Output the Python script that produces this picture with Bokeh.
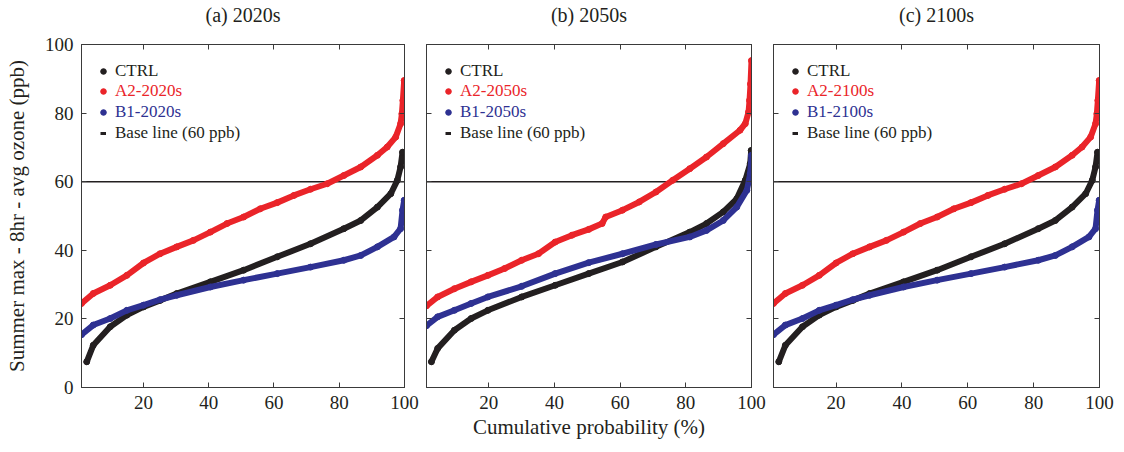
import numpy as np
from bokeh.plotting import figure
from bokeh.models import (ColumnDataSource, Span, Legend, LegendItem, LinearAxis,
                          FixedTicker, Range1d)
from bokeh.layouts import row
from bokeh.embed import file_html
from bokeh.resources import INLINE

FONT = "Liberation Serif"
BASELINE = 60
X_TICKS = [20, 40, 60, 80, 100]
Y_TICKS = [0, 20, 40, 60, 80, 100]
PANEL_TITLES = ["(a) 2020s", "(b) 2050s", "(c) 2100s"]
PERIODS = ["2020s", "2050s", "2100s"]
Y_LABEL = "Summer max - 8hr - avg ozone (ppb)"
X_LABEL = "Cumulative probability (%)"

# ---- panel (a) 2020s ----
ctrl_2020_x = [2.6, 4.6, 9.8, 14.9, 20, 25.1, 30.2, 40.5, 50.7, 61, 71.2, 81.4, 86.6, 91.7, 95.8, 97.8, 98.8, 99.4]
ctrl_2020_y = [7.5, 12.3, 17.7, 21.1, 23.5, 25.4, 27.4, 30.8, 34.2, 38.1, 41.9, 46.3, 48.7, 52.6, 56.5, 60.4, 64.3, 68.6]
a2_2020_x = [1, 4.6, 9.8, 14.9, 20, 25.1, 30.2, 35.3, 40.5, 45.6, 50.7, 55.8, 61, 66.1, 71.2, 76.3, 81.4, 86.6, 91.7, 94.7, 97.3, 98.8, 99.2, 99.5, 99.9]
a2_2020_y = [24.5, 27.4, 29.8, 32.7, 36.3, 39, 41, 42.9, 45.3, 47.8, 49.7, 52.1, 53.9, 56, 57.8, 59.4, 61.8, 64.3, 67.7, 70.1, 73, 76.9, 79.8, 83.7, 89.5]
b1_2020_x = [1, 4.6, 9.8, 14.9, 20, 25.1, 30.2, 40.5, 50.7, 61, 71.2, 81.4, 86.6, 91.7, 96.8, 98.8, 99.4, 99.9]
b1_2020_y = [15.4, 18.2, 20.1, 22.5, 24, 25.6, 26.9, 29.3, 31.3, 33.2, 35.1, 37.1, 38.5, 41, 43.9, 46.3, 51.7, 54.6]

# ---- panel (b) 2050s ----
ctrl_2050_x = [2.5, 4.4, 9.5, 14.6, 19.7, 30, 40.2, 50.4, 60.7, 70.9, 81.2, 86.3, 91.4, 95.5, 98.1, 99.6, 99.9]
ctrl_2050_y = [7.5, 11.4, 16.7, 20.1, 22.5, 26.4, 29.8, 33.2, 36.6, 41, 45.3, 47.8, 51.2, 55, 60.4, 65.2, 69.1]
a2_2050_x = [1, 4.4, 9.5, 14.6, 19.7, 24.8, 30, 35.1, 40.2, 45.3, 50.4, 54.5, 55.6, 60.7, 65.8, 70.9, 76, 81.2, 86.3, 91.4, 96.5, 98.1, 99.1, 99.4, 99.7, 100]
a2_2050_y = [23.8, 26.4, 28.8, 30.8, 32.7, 34.7, 37.1, 39, 42.4, 44.4, 46.1, 47.8, 49.7, 51.7, 54.1, 57, 60.4, 63.8, 67.2, 71.1, 75, 76.9, 80.3, 83.7, 88.5, 95.3]
b1_2050_x = [1, 4.4, 9.5, 14.6, 19.7, 30, 40.2, 50.4, 60.7, 70.9, 81.2, 86.3, 91.4, 95.5, 98.6, 99.6, 100]
b1_2050_y = [18, 20.6, 22.5, 24.5, 26.4, 29.5, 33.2, 36.4, 39, 41.7, 43.9, 45.8, 48.7, 52.6, 57.5, 62.3, 67.7]

# ---- panel (c) 2100s ----
ctrl_2100_x = [2.6, 4.6, 9.8, 14.9, 20, 25.1, 30.2, 40.5, 50.7, 61, 71.2, 81.4, 86.6, 91.7, 95.8, 97.8, 98.8, 99.4]
ctrl_2100_y = [7.5, 12.3, 17.7, 21.1, 23.5, 25.4, 27.4, 30.8, 34.2, 38.1, 41.9, 46.3, 48.7, 52.6, 56.5, 60.4, 64.3, 68.6]
a2_2100_x = [1, 4.6, 9.8, 14.9, 20, 25.1, 30.2, 35.3, 40.5, 45.6, 50.7, 55.8, 61, 66.1, 71.2, 76.3, 81.4, 86.6, 91.7, 94.7, 97.3, 98.8, 99.2, 99.5, 99.9]
a2_2100_y = [24.5, 27.4, 29.8, 32.7, 36.3, 39, 41, 42.9, 45.3, 47.8, 49.7, 52.1, 53.9, 56, 57.8, 59.4, 61.8, 64.3, 67.7, 70.1, 73, 76.9, 79.8, 83.7, 89.5]
b1_2100_x = [1, 4.6, 9.8, 14.9, 20, 25.1, 30.2, 40.5, 50.7, 61, 71.2, 81.4, 86.6, 91.7, 96.8, 98.8, 99.4, 99.9]
b1_2100_y = [15.4, 18.2, 20.1, 22.5, 24, 25.6, 26.9, 29.3, 31.3, 33.2, 35.1, 37.1, 38.5, 41, 43.9, 46.3, 51.7, 54.6]

PANEL_DATA = [
    (ctrl_2020_x, ctrl_2020_y, a2_2020_x, a2_2020_y, b1_2020_x, b1_2020_y),
    (ctrl_2050_x, ctrl_2050_y, a2_2050_x, a2_2050_y, b1_2050_x, b1_2050_y),
    (ctrl_2100_x, ctrl_2100_y, a2_2100_x, a2_2100_y, b1_2100_x, b1_2100_y),
]

BLACK = "#231F20"
RED = "#EA2429"
BLUE = "#2E3192"
AXIS = "#3a3a3a"

FRAME_W = [323, 325, 326]
FRAME_H = 343
BORDER_L = [81, 6, 6]
BORDER_R = [16, 16, 20]


def style_axis(ax, ticks, show_labels):
    ax.ticker = FixedTicker(ticks=ticks)
    ax.major_tick_in = 5
    ax.major_tick_out = 0
    ax.minor_tick_line_color = None
    ax.axis_line_color = AXIS
    ax.major_tick_line_color = AXIS
    ax.major_label_text_font = FONT
    if show_labels:
        ax.major_label_text_color = BLACK
        ax.major_label_text_font_size = "19px"
        ax.major_label_standoff = 8
    else:
        ax.major_label_text_color = None
        ax.major_label_text_font_size = "0px"
        ax.major_label_standoff = 0
    ax.axis_label_text_font = FONT
    ax.axis_label_text_font_style = "normal"
    ax.axis_label_text_font_size = "21px"
    ax.axis_label_text_color = BLACK


def add_legend(p, label, renderer, color, vy, gw, standoff, lx):
    leg = Legend(items=[LegendItem(label=label, renderers=[renderer])],
                 location=(lx, vy), glyph_width=gw, glyph_height=20,
                 label_height=20, label_standoff=standoff, padding=0, margin=0,
                 spacing=0, border_line_color=None, background_fill_alpha=0,
                 label_text_font=FONT, label_text_font_size="17px",
                 label_text_color=color)
    p.add_layout(leg)


figs = []
for i in range(3):
    cx, cy, ax_, ay, bx, by = PANEL_DATA[i]
    p = figure(frame_width=FRAME_W[i], frame_height=FRAME_H,
               x_range=Range1d(1, 100), y_range=Range1d(0, 100),
               output_backend="svg", toolbar_location=None,
               min_border_left=BORDER_L[i], min_border_right=BORDER_R[i],
               min_border_top=44, min_border_bottom=57,
               background_fill_color="white", border_fill_color="white")
    p.outline_line_color = AXIS
    p.xgrid.visible = False
    p.ygrid.visible = False

    p.add_layout(LinearAxis(), "above")
    p.add_layout(LinearAxis(), "right")
    style_axis(p.below[0], X_TICKS, True)
    style_axis(p.above[0], X_TICKS, False)
    style_axis(p.left[0], Y_TICKS, i == 0)
    style_axis(p.right[0], Y_TICKS, False)

    # panel title carried by the top axis
    top = p.above[0]
    top.axis_label = PANEL_TITLES[i]
    top.axis_label_text_font_size = "20px"
    top.axis_label_standoff = 19

    if i == 0:
        p.left[0].axis_label = Y_LABEL
        p.left[0].axis_label_standoff = 13
    if i == 1:
        p.below[0].axis_label = X_LABEL
        p.below[0].axis_label_standoff = 3

    p.add_layout(Span(location=BASELINE, dimension="width", line_color=BLACK,
                      line_width=1.5, level="underlay"))

    renderers = {}
    for key, xs, ys, color in (("ctrl", cx, cy, BLACK), ("b1", bx, by, BLUE), ("a2", ax_, ay, RED)):
        src = ColumnDataSource(dict(x=xs, y=ys))
        p.line("x", "y", source=src, line_width=6, line_color=color,
               line_cap="round", line_join="round")
        renderers[key] = p.scatter("x", "y", source=src, size=6, color=color)
    # legend-only renderer for the baseline entry (draws nothing in the plot)
    base_src = ColumnDataSource(dict(x=np.array([np.nan]), y=np.array([np.nan])))
    base_r = p.line("x", "y", source=base_src, line_width=3, line_color=BLACK)

    add_legend(p, "CTRL", renderers["ctrl"], BLACK, 306, 14, 5, 15)
    add_legend(p, "A2-" + PERIODS[i], renderers["a2"], RED, 286, 14, 5, 15)
    add_legend(p, "B1-" + PERIODS[i], renderers["b1"], BLUE, 265, 14, 5, 15)
    add_legend(p, "Base line (60 ppb)", base_r, BLACK, 244, 6, 9, 19)
    figs.append(p)

layout = row(*figs, spacing=0)
open("out.html", "w").write(file_html(layout, INLINE))
